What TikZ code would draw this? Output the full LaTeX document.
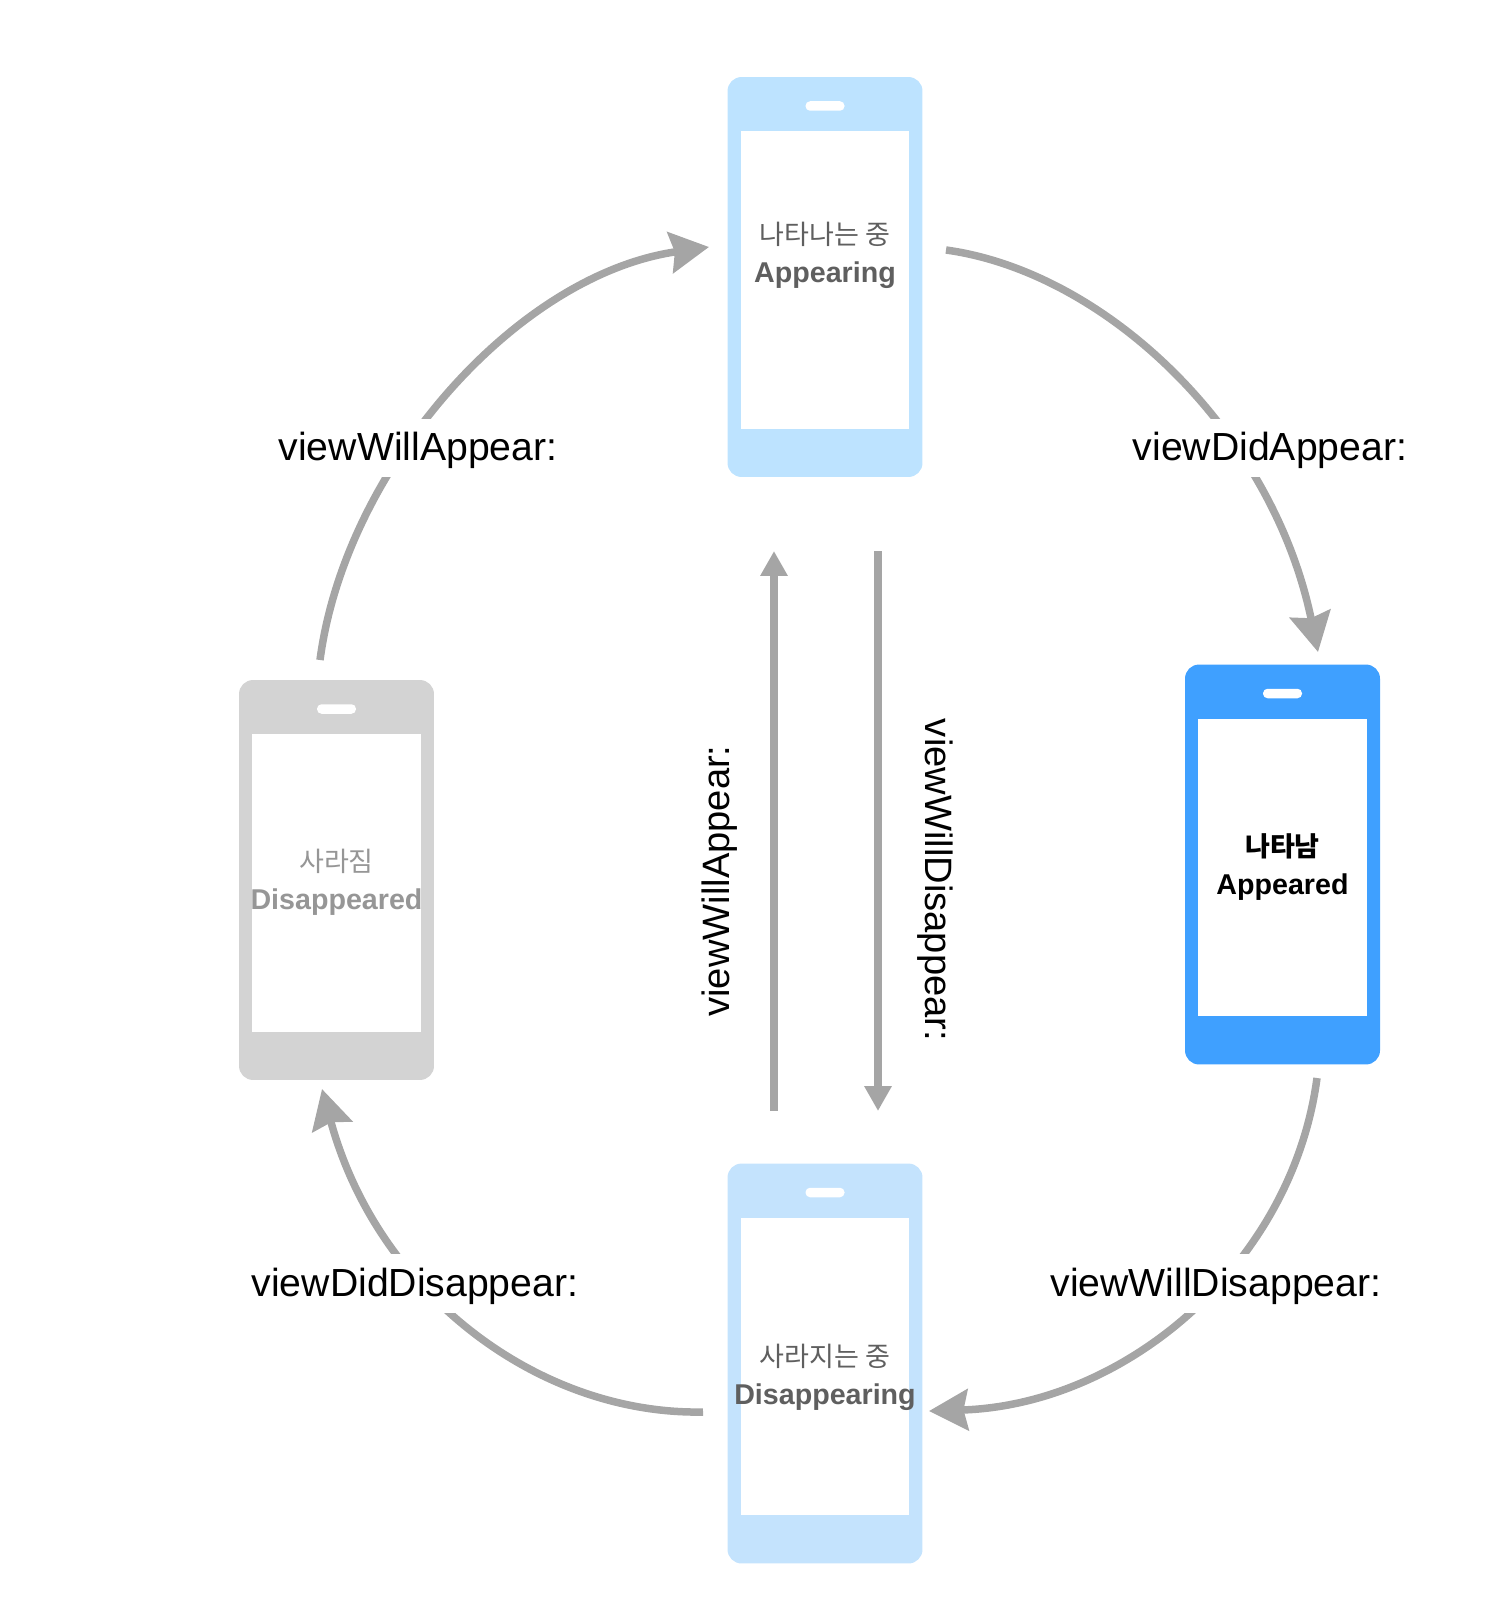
\documentclass[tikz,border=0pt]{standalone}
\usepackage{fontspec}
\setmainfont{Liberation Sans}
\newfontfamily\korfont{Noto Sans CJK KR}
\usetikzlibrary{arrows.meta}
\definecolor{topblue}{RGB}{189,227,255}
\definecolor{bottomblue}{RGB}{196,227,253}
\definecolor{strongblue}{RGB}{63,160,255}
\definecolor{fadegray}{RGB}{211,211,211}
\definecolor{linegray}{RGB}{165,165,165}
\definecolor{textdark}{RGB}{95,95,95}
\definecolor{textfade}{RGB}{150,150,150}
\tikzset{
    phonebody/.style={rectangle, inner sep=0pt, minimum width=3.9cm, minimum height=8cm, rounded corners=0.28cm},
    phonescreen/.style={rectangle, fill=white, inner sep=0pt, minimum width=3.37cm, minimum height=5.96cm},
    phonespeaker/.style={rectangle, fill=white, inner sep=0pt, minimum width=0.78cm, minimum height=0.19cm, rounded corners=0.09cm},
    phonetext/.style={align=center, inner sep=0pt, font=\bfseries\fontsize{16.3}{21.5}\selectfont},
    arc/.style={draw=linegray, line width=0.15cm, -{Stealth[length=0.78cm, width=0.82cm, inset=0.09cm]}},
    straight/.style={draw=linegray, line width=0.16cm, -{Triangle[length=0.5cm, width=0.52cm]}},
    arclabel/.style={fill=white, inner sep=0pt, text height=0.85cm, text depth=0.33cm, font=\fontsize{22.3}{26}\selectfont},
    sidelabel/.style={inner sep=0pt, font=\fontsize{21.7}{26}\selectfont}
}
\begin{document}
\begin{tikzpicture}[x=0.02cm, y=-0.02cm]
    \useasboundingbox (0, 0) rectangle (1498, 1618);

    \foreach \name/\x/\y/\col/\ty/\txtcol/\wt/\kor/\eng in {
        appearing/825/277/topblue/255/textdark/\mdseries/나타나는 중/Appearing,
        appeared/1282.5/864.5/strongblue/867/black/\bfseries/나타남/Appeared,
        disappearing/825/1363.5/bottomblue/1377/textdark/\mdseries/사라지는 중/Disappearing,
        disappeared/336.5/880/fadegray/882/textfade/\mdseries/사라짐/Disappeared} {
        \node[phonebody, fill=\col] (\name) at (\x, \y) {};
        \node[phonescreen] (\name screen) at (\x, \y+3) {};
        \node[phonespeaker] (\name speaker) at (\x, \y-171) {};
        \node[phonetext, text=\txtcol] (\name text) at (\x, \ty) {{\korfont\wt\fontsize{15.4}{21.5}\selectfont\kor}\\\eng};
    }

    \coordinate (a1) at (320, 660);
    \coordinate (a2) at (709, 247);
    \coordinate (b1) at (946, 250);
    \coordinate (b2) at (1318, 652);
    \coordinate (c1) at (1317, 1078);
    \coordinate (c2) at (929, 1411);
    \coordinate (d1) at (703, 1412);
    \coordinate (d2) at (322, 1089);
    \coordinate (e1) at (774, 1111);
    \coordinate (e2) at (774, 551);
    \coordinate (f1) at (878, 551);
    \coordinate (f2) at (878, 1111);

    \draw[arc] (a1) .. controls (345, 470) and (515, 275) .. (a2);
    \draw[arc] (b1) .. controls (1105, 272) and (1272, 430) .. (b2);
    \draw[arc] (c1) .. controls (1292, 1265) and (1125, 1405) .. (c2);
    \draw[arc] (d1) .. controls (540, 1415) and (378, 1295) .. (d2);
    \draw[straight] (e1) -- (e2);
    \draw[straight] (f1) -- (f2);

    \node[arclabel] (will appear) at (418, 448) {viewWillAppear:};
    \node[arclabel] (did appear) at (1270, 448) {viewDidAppear:};
    \node[arclabel] (will disappear) at (1216, 1283) {viewWillDisappear:};
    \node[arclabel] (did disappear) at (415, 1283) {viewDidDisappear:};
    \node[sidelabel, rotate=90] (back appear) at (720, 881) {viewWillAppear:};
    \node[sidelabel, rotate=-90] (back disappear) at (935, 880) {viewWillDisappear:};
\end{tikzpicture}
\end{document}
